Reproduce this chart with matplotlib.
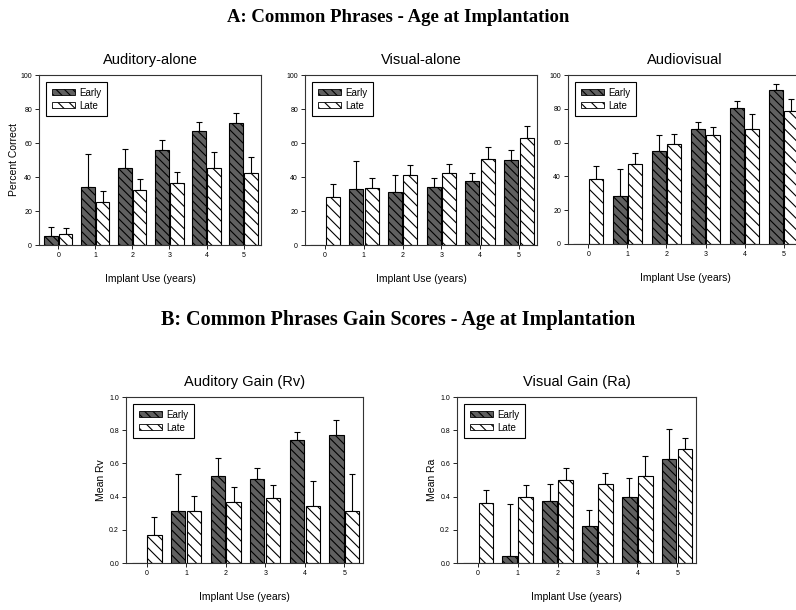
import numpy as np
import matplotlib
matplotlib.use("Agg")
import matplotlib.pyplot as plt
from matplotlib.patches import Patch

nan = np.nan
years = [0, 1, 2, 3, 4, 5]
year_labels = ["0", "1", "2", "3", "4", "5"]

# Panel A: Common Phrases (Percent Correct)
aud_early = [5.3, 34.3, 45.3, 55.7, 67.3, 71.8]
aud_early_err = [5.1, 19.0, 11.0, 5.9, 5.1, 5.7]
aud_late = [6.7, 25.5, 32.5, 36.3, 45.5, 42.2]
aud_late_err = [3.5, 6.5, 6.3, 6.4, 9.4, 9.6]

vis_early = [nan, 32.8, 31.2, 34.1, 37.5, 50.1]
vis_early_err = [nan, 16.6, 10.2, 5.3, 4.6, 5.5]
vis_late = [28.1, 33.6, 41.4, 42.5, 50.7, 63.0]
vis_late_err = [8.0, 5.8, 5.6, 5.1, 7.1, 7.0]

av_early = [nan, 28.6, 55.2, 67.9, 80.3, 90.9]
av_early_err = [nan, 16.0, 9.5, 4.5, 4.1, 3.6]
av_late = [38.7, 47.1, 59.0, 64.7, 68.0, 78.9]
av_late_err = [7.7, 6.9, 6.3, 4.7, 9.1, 6.9]

# Panel B: Gain scores
rv_early = [nan, 0.312, 0.525, 0.507, 0.738, 0.769]
rv_early_err = [nan, 0.227, 0.105, 0.066, 0.051, 0.090]
rv_late = [0.171, 0.312, 0.368, 0.392, 0.344, 0.316]
rv_late_err = [0.107, 0.090, 0.091, 0.077, 0.151, 0.221]

ra_early = [nan, 0.040, 0.375, 0.220, 0.395, 0.625]
ra_early_err = [nan, 0.317, 0.099, 0.099, 0.115, 0.181]
ra_late = [0.359, 0.400, 0.502, 0.474, 0.522, 0.685]
ra_late_err = [0.079, 0.070, 0.068, 0.070, 0.121, 0.069]

W, H = 796, 610
plt.rcParams['font.family'] = ['Liberation Sans', 'DejaVu Sans']
plt.rcParams['hatch.linewidth'] = 0.8
fig = plt.figure(figsize=(W / 100, H / 100), dpi=100)

EARLY_FC = '#606060'
EARLY_HATCH = '\\\\\\\\'
LATE_HATCH = '\\\\\\'
BW = 0.36
OFF = 0.2


def px_axes(l, r, t, b):
    return fig.add_axes([l / W, (H - b) / H, (r - l) / W, (b - t) / H])


def panel(ax, early, early_err, late, late_err, title, ylabel, ymax, yticks, ytl, wpx, hpx):
    x = np.array(years, dtype=float)
    e = np.array(early, dtype=float)
    ee = np.array(early_err, dtype=float)
    l = np.array(late, dtype=float)
    le = np.array(late_err, dtype=float)
    ax.bar(x - OFF, np.nan_to_num(e), width=BW, facecolor=EARLY_FC, edgecolor='black',
           hatch=EARLY_HATCH, linewidth=0.8, zorder=2)
    ax.bar(x + OFF, l, width=BW, facecolor='white', edgecolor='black',
           hatch=LATE_HATCH, linewidth=0.8, zorder=2)
    m = ~np.isnan(e)
    ax.errorbar(x[m] - OFF, e[m], yerr=[np.zeros(m.sum()), ee[m]], fmt='none',
                ecolor='black', elinewidth=0.8, capsize=2.2, capthick=0.8, zorder=1)
    ax.errorbar(x + OFF, l, yerr=[np.zeros(len(l)), le], fmt='none',
                ecolor='black', elinewidth=0.8, capsize=2.2, capthick=0.8, zorder=1)
    ax.set_xlim(-0.52, 5.47)
    ax.set_ylim(0, ymax)
    ax.set_xticks(x)
    ax.set_xticklabels(year_labels)
    ax.set_yticks(yticks)
    ax.set_yticklabels(ytl)
    ax.tick_params(direction='out', length=3, width=0.6, labelsize=5, pad=2, colors='black')
    for s in ax.spines.values():
        s.set_linewidth(0.8)
        s.set_color('#333333')
    ax.set_title(title, fontsize=10.5, pad=8)
    ax.set_xlabel("Implant Use (years)", fontsize=7.5)
    ax.xaxis.set_label_coords(0.5, -29 / hpx)
    if ylabel:
        ax.set_ylabel(ylabel, fontsize=7.5)
        ax.yaxis.set_label_coords(-20 / wpx, 0.5)
    handles = [Patch(facecolor=EARLY_FC, edgecolor='black', hatch=EARLY_HATCH, linewidth=0.6),
               Patch(facecolor='white', edgecolor='black', hatch=LATE_HATCH, linewidth=0.6)]
    leg = ax.legend(handles, ["Early", "Late"], loc='upper left', fontsize=7,
                    frameon=True, fancybox=False, edgecolor='black', framealpha=1,
                    handlelength=2.4, handleheight=0.55, handletextpad=0.4,
                    borderpad=0.6, labelspacing=0.3, borderaxespad=0.7)
    leg.get_frame().set_linewidth(0.8)


ytA = [0, 20, 40, 60, 80, 100]
ytA_l = ["0", "20", "40", "60", "80", "100"]
ytB = [0.0, 0.2, 0.4, 0.6, 0.8, 1.0]
ytB_l = ["0.0", "0.2", "0.4", "0.6", "0.8", "1.0"]

a1 = px_axes(39, 261, 75, 245)
panel(a1, aud_early, aud_early_err, aud_late, aud_late_err, "Auditory-alone",
      "Percent Correct", 100, ytA, ytA_l, 222, 170)
a2 = px_axes(305, 537, 75, 245)
panel(a2, vis_early, vis_early_err, vis_late, vis_late_err, "Visual-alone",
      None, 100, ytA, ytA_l, 232, 170)
a3 = px_axes(568, 802, 75, 244)
panel(a3, av_early, av_early_err, av_late, av_late_err, "Audiovisual",
      None, 100, ytA, ytA_l, 234, 169)

b1 = px_axes(126, 363, 397, 563)
panel(b1, rv_early, rv_early_err, rv_late, rv_late_err, "Auditory Gain (Rv)",
      "Mean Rv", 1.0, ytB, ytB_l, 237, 166)
b2 = px_axes(457, 696, 397, 563)
panel(b2, ra_early, ra_early_err, ra_late, ra_late_err, "Visual Gain (Ra)",
      "Mean Ra", 1.0, ytB, ytB_l, 239, 166)

fig.text(0.5, 1 - 18 / H, "A: Common Phrases - Age at Implantation",
         ha='center', va='center', fontsize=13.5, fontweight='bold',
         family=['Liberation Serif', 'DejaVu Serif'])
fig.text(0.5, 1 - 320 / H, "B: Common Phrases Gain Scores - Age at Implantation",
         ha='center', va='center', fontsize=14.5, fontweight='bold',
         family=['Liberation Serif', 'DejaVu Serif'])

fig.savefig("out.png", dpi=100)
